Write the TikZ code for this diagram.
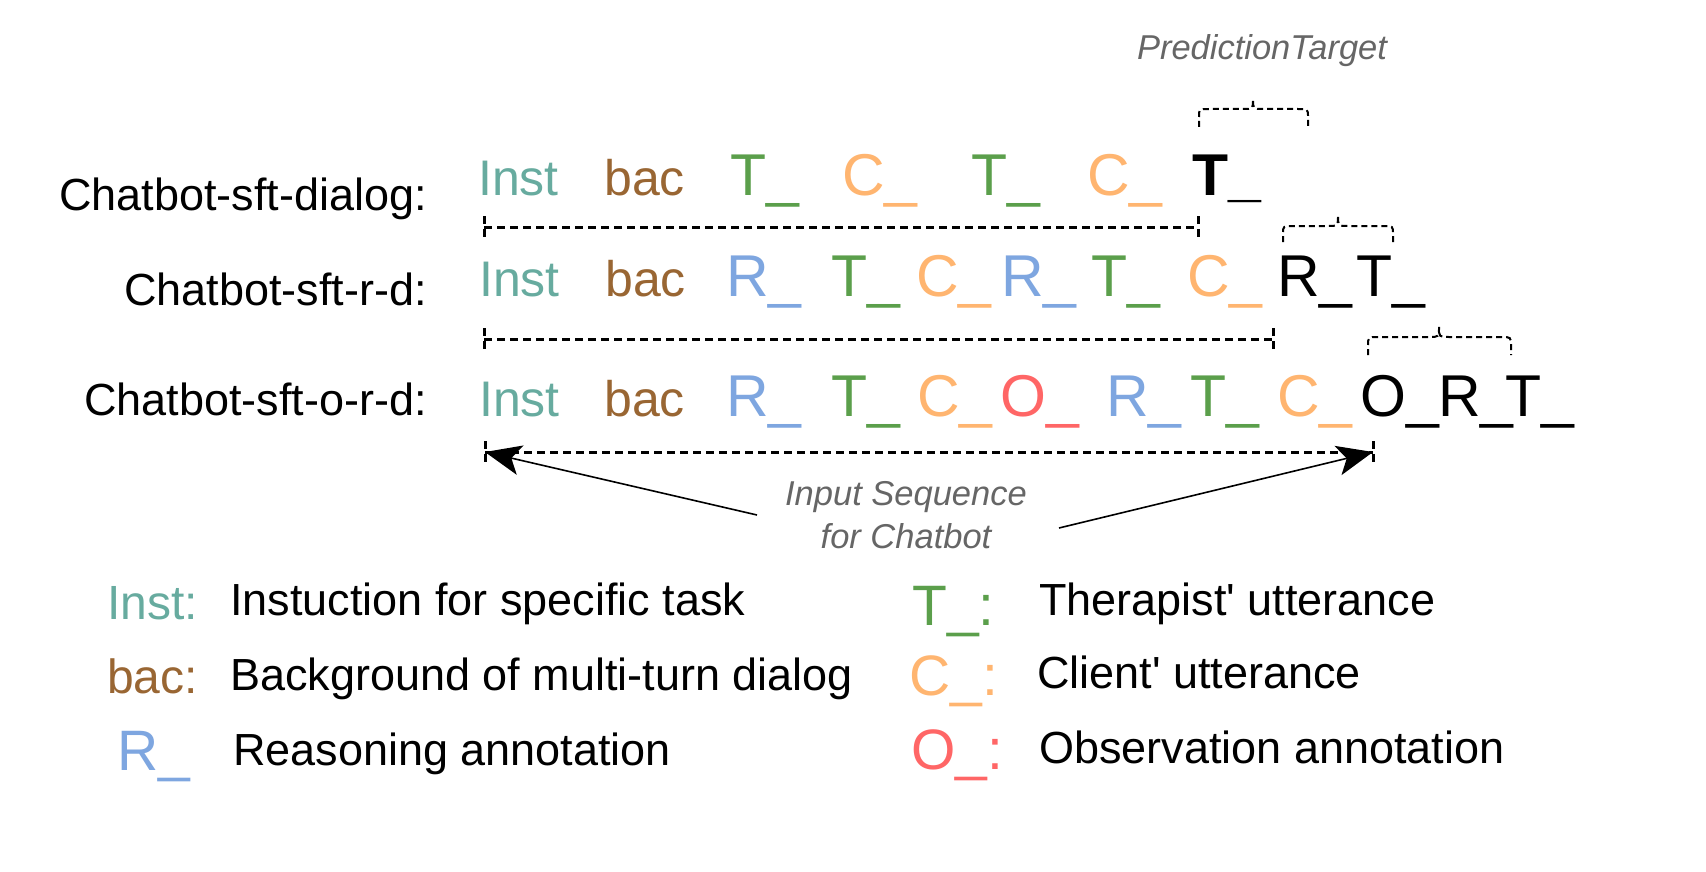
\documentclass[tikz,border=0pt]{standalone}
\usepackage{fontspec}
\setmainfont{Liberation Sans}[Ligatures=TeXOff]
\usetikzlibrary{arrows.meta}
\definecolor{cInst}{HTML}{67AB9F}
\definecolor{cBac}{HTML}{996633}
\definecolor{cT}{HTML}{5B9F4B}
\definecolor{cC}{HTML}{FFB570}
\definecolor{cR}{HTML}{7EA6E0}
\definecolor{cO}{HTML}{FF6666}
\definecolor{cGray}{HTML}{666666}
\tikzset{
  tok/.style={font=\fontsize{50}{60}\selectfont, text=#1, inner sep=0, anchor=base west},
  big/.style={font=\fontsize{59}{70}\selectfont, text=#1, inner sep=0, anchor=base west},
  lbl/.style={font=\fontsize{45}{54}\selectfont, text=black, inner sep=0},
  legk/.style={font=\fontsize{48}{58}\selectfont, text=#1, inner sep=0, anchor=base west},
  legb/.style={font=\fontsize{57}{68}\selectfont, text=#1, inner sep=0, anchor=base west},
  gt/.style={font=\fontsize{34.5}{41}\selectfont\itshape, text=cGray, inner sep=0, anchor=base},
  dline/.style={draw=black, line width=3pt, dash pattern=on 8pt off 5pt},
  brc/.style={draw=black, line width=2pt, dash pattern=on 6pt off 4pt},
  arr/.style={draw=black, line width=1.6pt, -{Stealth[length=36pt,width=30pt,inset=9pt]}}
}
\begin{document}
\begin{tikzpicture}[x=1pt,y=-1pt]
\useasboundingbox (0,0) rectangle (1706,872);
\fill[white] (0,0) rectangle (1706,872);

% prediction target
\node[gt] (pt) at (1262,60) {PredictionTarget};

% row labels
\node[lbl, anchor=base east] (l1) at (427,210) {Chatbot-sft-dialog:};
\node[lbl, anchor=base east] (l2) at (427,305) {Chatbot-sft-r-d:};
\node[lbl, anchor=base east] (l3) at (427,415) {Chatbot-sft-o-r-d:};

% row 1
\node[tok=cInst] (a1) at (478,195) {Inst};
\node[tok=cBac]  (a2) at (604,195) {bac};
\node[big=cT]    (a3) at (730,195) {T\_};
\node[big=cC]    (a4) at (842,195) {C\_};
\node[big=cT]    (a5) at (971,195) {T\_};
\node[big=cC]    (a6) at (1087,195) {C\_};
\node[big=black, font=\fontsize{59}{70}\selectfont\bfseries] (a7) at (1192,195) {T\_};

% row 2
\node[tok=cInst] (b1) at (479,296) {Inst};
\node[tok=cBac]  (b2) at (605,296) {bac};
\node[big=cR]    (b3) at (726,296) {R\_};
\node[big=cT]    (b4) at (831,296) {T\_};
\node[big=cC]    (b5) at (916,296) {C\_};
\node[big=cR]    (b6) at (1001,296) {R\_};
\node[big=cT]    (b7) at (1091,296) {T\_};
\node[big=cC]    (b8) at (1187,296) {C\_};
\node[big=black] (b9) at (1277,296) {R\_};
\node[big=black] (b10) at (1356,296) {T\_};

% row 3
\node[tok=cInst] (c1) at (479,416) {Inst};
\node[tok=cBac]  (c2) at (604,416) {bac};
\node[big=cR]    (c3) at (726,416) {R\_};
\node[big=cT]    (c4) at (831,416) {T\_};
\node[big=cC]    (c5) at (917,416) {C\_};
\node[big=cO]    (c6) at (1000,416) {O\_};
\node[big=cR]    (c7) at (1106,416) {R\_};
\node[big=cT]    (c8) at (1190,416) {T\_};
\node[big=cC]    (c9) at (1277,416) {C\_};
\node[big=black] (c10) at (1360,416) {O\_};
\node[big=black] (c11) at (1438,416) {R\_};
\node[big=black] (c12) at (1505,416) {T\_};

% dashed spans
\coordinate (d1a) at (484,227); \coordinate (d1b) at (1198,227);
\coordinate (d2a) at (484,339); \coordinate (d2b) at (1273,339);
\coordinate (d3a) at (485,452); \coordinate (d3b) at (1373,452);
\draw[dline] (d1a) -- (d1b);
\draw[dline] ([yshift=11pt]d1a) -- ([yshift=-11pt]d1a);
\draw[dline] ([yshift=11pt]d1b) -- ([yshift=-11pt]d1b);
\draw[dline] (d2a) -- (d2b);
\draw[dline] ([yshift=11pt]d2a) -- ([yshift=-11pt]d2a);
\draw[dline] ([yshift=11pt]d2b) -- ([yshift=-11pt]d2b);
\draw[dline] (d3a) -- (d3b);
\draw[dline] ([yshift=11pt]d3a) -- ([yshift=-11pt]d3a);
\draw[dline] ([yshift=11pt]d3b) -- ([yshift=-11pt]d3b);

% braces
\draw[brc] (1199,127) -- (1199,117) .. controls (1199,109) .. (1209,109) -- (1243,109)
  .. controls (1253,109) .. (1253,99) .. controls (1253,109) .. (1263,109) -- (1298,109)
  .. controls (1308,109) .. (1308,117) -- (1308,127);
\draw[brc] (1283,242) -- (1283,234) .. controls (1283,226) .. (1293,226) -- (1328,226)
  .. controls (1338,226) .. (1338,215) .. controls (1338,226) .. (1348,226) -- (1383,226)
  .. controls (1393,226) .. (1393,234) -- (1393,242);
\draw[brc] (1368,355) -- (1368,346) .. controls (1368,337) .. (1378,337) -- (1429,337)
  .. controls (1439,337) .. (1439,327) .. controls (1439,337) .. (1449,337) -- (1501,337)
  .. controls (1511,337) .. (1511,346) -- (1511,355);

% input sequence
\node[gt] (in1) at (906,505) {Input Sequence};
\node[gt] (in2) at (906,548) {for Chatbot};
\coordinate (s1) at (757,515);
\coordinate (s2) at (1059,528);
\draw[arr] (s1) -- (d3a);
\draw[arr] (s2) -- (d3b);

% legend left
\node[legk=cInst] (k1) at (107,619) {Inst:};
\node[lbl, anchor=base west] (t1) at (230,615) {Instuction for specific task};
\node[legk=cBac] (k2) at (107,693) {bac:};
\node[lbl, anchor=base west] (t2) at (230,690) {Background of multi-turn dialog};
\node[legb=cR] (k3) at (117,770) {R\_};
\node[lbl, anchor=base west] (t3) at (233,765) {Reasoning annotation};

% legend right
\node[legb=cT] (k4) at (912,625) {T\_:};
\node[lbl, anchor=base west] (t4) at (1039,615) {Therapist' utterance};
\node[legb=cC] (k5) at (909,695) {C\_:};
\node[lbl, anchor=base west] (t5) at (1037,688) {Client' utterance};
\node[legb=cO] (k6) at (911,769) {O\_:};
\node[lbl, anchor=base west] (t6) at (1039,763) {Observation annotation};
\end{tikzpicture}
\end{document}
